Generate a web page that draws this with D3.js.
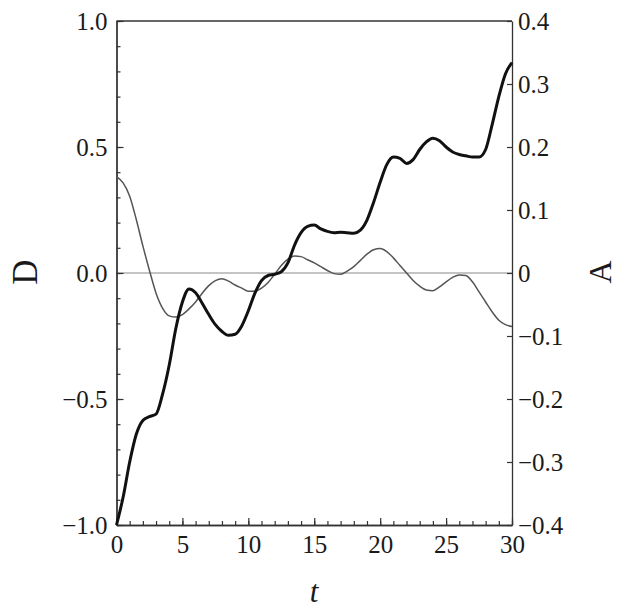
<!DOCTYPE html>
<html>
<head>
<meta charset="utf-8">
<script src="https://cdn.jsdelivr.net/npm/d3@7"></script>
<style>
  body { margin: 0; background: #fff; }
  text { font-family: "Liberation Serif", "Times New Roman", serif; fill: #1a1a1a; }
</style>
</head>
<body>
<div class="main"></div>
<script>
const w = 619;
const h = 608;

// t samples
const tValues = [
  0, 0.5, 1, 1.5, 2, 2.5, 3, 3.5, 4, 4.5, 5, 5.5, 6, 6.5, 7, 7.5, 8, 8.5, 9, 9.5,
  10, 10.5, 11, 11.5, 12, 12.5, 13, 13.5, 14, 14.5, 15, 15.5, 16, 16.5, 17, 17.5,
  18, 18.5, 19, 19.5, 20, 20.5, 21, 21.5, 22, 22.5, 23, 23.5, 24, 24.5, 25, 25.5,
  26, 26.5, 27, 27.5, 28, 28.5, 29, 29.5, 30
];

// D (left axis, thick)
const dValues = [
  -1.0, -0.89, -0.75, -0.64, -0.585, -0.57, -0.56, -0.48, -0.365, -0.22, -0.115, -0.063,
  -0.078, -0.12, -0.165, -0.205, -0.232, -0.247, -0.243, -0.21, -0.15, -0.08, -0.03,
  -0.01, -0.005, 0.005, 0.04, 0.11, 0.16, 0.185, 0.19, 0.175, 0.165, 0.16, 0.162,
  0.16, 0.158, 0.17, 0.21, 0.28, 0.36, 0.43, 0.46, 0.455, 0.435, 0.45, 0.49, 0.52,
  0.535, 0.525, 0.5, 0.48, 0.47, 0.465, 0.46, 0.46, 0.49, 0.59, 0.7, 0.79, 0.835
];

// A (right axis, thin)
const aValues = [
  0.153, 0.143, 0.122, 0.085, 0.043, 0.004, -0.032, -0.056, -0.068, -0.07, -0.066,
  -0.057, -0.046, -0.032, -0.02, -0.012, -0.009, -0.013, -0.019, -0.024, -0.029,
  -0.029, -0.024, -0.015, -0.002, 0.012, 0.022, 0.027, 0.026, 0.021, 0.016, 0.01,
  0.004, -0.001, -0.002, 0.003, 0.01, 0.02, 0.03, 0.037, 0.039, 0.034, 0.024, 0.012,
  0.0, -0.012, -0.021, -0.027, -0.028, -0.022, -0.014, -0.007, -0.003, -0.004,
  -0.014, -0.03, -0.046, -0.062, -0.075, -0.082, -0.085
];

const xTicks = [0, 5, 10, 15, 20, 25, 30];
const dTicks = [-1, -0.5, 0, 0.5, 1];
const aTicks = [-0.4, -0.3, -0.2, -0.1, 0, 0.1, 0.2, 0.3, 0.4];

const plotLeft = 116.5;
const plotRight = 512;
const plotTop = 21;
const plotBottom = 525;

const svg = d3.select('.main').append('svg').attr('width', w).attr('height', h);

const x = d3.scaleLinear().domain([0, 30]).range([plotLeft, plotRight]);
const yD = d3.scaleLinear().domain([-1, 1]).range([plotBottom, plotTop]);
const yA = d3.scaleLinear().domain([-0.4, 0.4]).range([plotBottom, plotTop]);

const fmtD = d3.format('.1f');
const fmtA = (v) => (Math.abs(v) < 1e-9 ? '0' : d3.format('.1f')(v));

// zero line
svg.append('line')
  .attr('x1', plotLeft).attr('x2', plotRight)
  .attr('y1', yD(0)).attr('y2', yD(0))
  .attr('stroke', '#8a8a8a').attr('stroke-width', 1.2);

// top frame
svg.append('line')
  .attr('x1', plotLeft).attr('x2', plotRight)
  .attr('y1', plotTop).attr('y2', plotTop)
  .attr('stroke', '#333').attr('stroke-width', 1.3);

function styleAxis(sel) {
  sel.select('.domain').attr('stroke', '#333').attr('stroke-width', 1.3);
  sel.selectAll('.tick line').attr('stroke', '#333').attr('stroke-width', 1.2);
  sel.selectAll('.tick text').style('font-size', '25px').attr('fill', '#1a1a1a')
    .style('font-family', '"Liberation Serif", serif');
}

// left axis minor + major
svg.append('g').attr('transform', `translate(${plotLeft},0)`)
  .call(d3.axisLeft(yD).tickValues(d3.range(-10, 11).map((v) => v / 10))
    .tickSize(-4).tickSizeOuter(0).tickFormat(''))
  .call(styleAxis);
svg.append('g').attr('transform', `translate(${plotLeft},0)`)
  .call(d3.axisLeft(yD).tickValues(dTicks).tickSize(-7).tickSizeOuter(0)
    .tickPadding(9).tickFormat(fmtD))
  .call(styleAxis);

// right axis
svg.append('g').attr('transform', `translate(${plotRight},0)`)
  .call(d3.axisRight(yA).tickValues(aTicks).tickSize(-5).tickSizeOuter(0)
    .tickPadding(6).tickFormat(fmtA))
  .call(styleAxis);

// bottom axis minor + major
svg.append('g').attr('transform', `translate(0,${plotBottom})`)
  .call(d3.axisBottom(x).tickValues(d3.range(0, 31)).tickSize(-4)
    .tickSizeOuter(0).tickFormat(''))
  .call(styleAxis);
svg.append('g').attr('transform', `translate(0,${plotBottom})`)
  .call(d3.axisBottom(x).tickValues(xTicks).tickSize(-7).tickSizeOuter(0)
    .tickPadding(10).tickFormat(d3.format('d')))
  .call(styleAxis);

// curves
const lineA = d3.line()
  .x((d, i) => x(tValues[i]))
  .y((d) => yA(d))
  .curve(d3.curveMonotoneX);
const lineD = d3.line()
  .x((d, i) => x(tValues[i]))
  .y((d) => yD(d))
  .curve(d3.curveMonotoneX);

svg.append('path')
  .datum(aValues)
  .attr('fill', 'none')
  .attr('stroke', '#555')
  .attr('stroke-width', 1.5)
  .attr('d', lineA);

svg.append('path')
  .datum(dValues)
  .attr('fill', 'none')
  .attr('stroke', '#111')
  .attr('stroke-width', 3)
  .attr('stroke-linejoin', 'round')
  .attr('d', lineD);

// axis titles
svg.append('text')
  .attr('transform', 'translate(37,272) rotate(-90)')
  .attr('text-anchor', 'middle')
  .style('font-size', '35px')
  .text('D');

svg.append('text')
  .attr('transform', 'translate(611,272) rotate(-90)')
  .attr('text-anchor', 'middle')
  .style('font-size', '32px')
  .text('A');

svg.append('text')
  .attr('x', 314)
  .attr('y', 602)
  .attr('text-anchor', 'middle')
  .style('font-size', '31px')
  .style('font-style', 'italic')
  .text('t');
</script>
</body>
</html>
